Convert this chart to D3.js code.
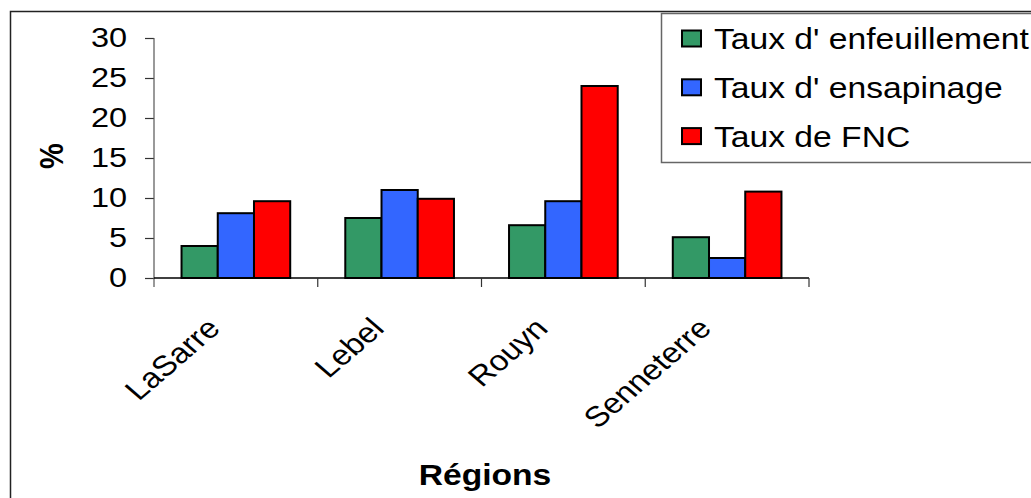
<!DOCTYPE html>
<html>
<head>
<meta charset="utf-8">
<script src="https://cdn.jsdelivr.net/npm/d3@7"></script>
<style>
  body { margin: 0; background: #fff; }
  svg text { font-family: "Liberation Sans", Arial, sans-serif; fill: #000; }
</style>
</head>
<body>
<div id="chart"></div>
<script>
// chart data
const regions = ['LaSarre', 'Lebel', 'Rouyn', 'Senneterre']
const seriesNames = ["Taux d' enfeuillement", "Taux d' ensapinage", 'Taux de FNC']
const enfeuillement = [4.0, 7.5, 6.6, 5.1]
const ensapinage = [8.1, 11.0, 9.6, 2.5]
const fnc = [9.6, 9.9, 24.0, 10.8]
const yTicks = [0, 5, 10, 15, 20, 25, 30]

const colors = ['#339966', '#3366ff', '#ff0000']
const seriesValues = [enfeuillement, ensapinage, fnc]

const width = 1031
const height = 498
// the original picture is stretched sideways, so text is too
const sx = 1.16

const svg = d3.select('#chart')
    .append('svg')
    .attr('width', width)
    .attr('height', height)

// outer frame (right and bottom edges fall off the picture)
svg.append('path')
    .attr('d', `M10.5,${height} L10.5,11.5 L${width},11.5`)
    .attr('fill', 'none')
    .attr('stroke', '#222')
    .attr('stroke-width', 1.5)

const xScale = d3.scaleBand()
    .domain(regions)
    .range([154, 809])

const subScale = d3.scaleBand()
    .domain(seriesNames)
    .range([0, xScale.bandwidth()])
    .paddingOuter(0.76)

const yScale = d3.scaleLinear()
    .domain([0, 30])
    .range([278, 38])

// bars
const rows = []
regions.forEach((r, i) => {
    seriesNames.forEach((s, j) => {
        rows.push({ region: r, series: s, value: seriesValues[j][i], color: colors[j] })
    })
})

svg.selectAll('.bar')
    .data(rows)
    .enter()
    .append('rect')
        .attr('class', 'bar')
        .attr('x', d => xScale(d.region) + subScale(d.series))
        .attr('y', d => yScale(d.value))
        .attr('width', subScale.bandwidth())
        .attr('height', d => yScale(0) - yScale(d.value))
        .attr('fill', d => d.color)
        .attr('stroke', '#000')
        .attr('stroke-width', 2)

// y axis
const yAxis = d3.axisLeft(yScale)
    .tickValues(yTicks)
    .tickSize(9)
    .tickFormat('')

const yGroup = svg.append('g')
    .attr('transform', 'translate(154,0)')
    .call(yAxis)
yGroup.select('.domain').remove()
yGroup.selectAll('line').attr('stroke', '#333').attr('stroke-width', 1.2)
yGroup.append('line')
    .attr('x1', 0).attr('x2', 0)
    .attr('y1', yScale(30)).attr('y2', 287)
    .attr('stroke', '#555')
    .attr('stroke-width', 1.2)

svg.selectAll('.ylab')
    .data(yTicks)
    .enter()
    .append('text')
        .attr('class', 'ylab')
        .attr('transform', d => `translate(127,${yScale(d)}) scale(${sx},1)`)
        .attr('dy', '0.33em')
        .attr('text-anchor', 'end')
        .attr('font-size', '28px')
        .text(d => d)

// x axis
const xGroup = svg.append('g')
xGroup.append('line')
    .attr('x1', 154).attr('x2', 809)
    .attr('y1', yScale(0)).attr('y2', yScale(0))
    .attr('stroke', '#000')
    .attr('stroke-width', 1.5)

const boundaries = regions.map(r => xScale(r)).concat([xScale.range()[1]])
xGroup.selectAll('.xtick')
    .data(boundaries.slice(1))
    .enter()
    .append('line')
        .attr('class', 'xtick')
        .attr('x1', d => d).attr('x2', d => d)
        .attr('y1', yScale(0)).attr('y2', 287)
        .attr('stroke', '#333')
        .attr('stroke-width', 1.2)

svg.selectAll('.xlab')
    .data(regions)
    .enter()
    .append('text')
        .attr('class', 'xlab')
        .attr('transform', d => `translate(${xScale(d) + xScale.bandwidth() / 2 - 14},330) scale(${sx},1) rotate(-45)`)
        .attr('text-anchor', 'end')
        .attr('font-size', '28.5px')
        .text(d => d)

// axis titles
svg.append('text')
    .attr('transform', `translate(485,485) scale(${sx},1)`)
    .attr('text-anchor', 'middle')
    .attr('font-size', '29px')
    .attr('font-weight', 'bold')
    .text('Régions')

svg.append('text')
    .attr('transform', `translate(63,156) scale(${sx},1) rotate(-90)`)
    .attr('text-anchor', 'middle')
    .attr('font-size', '29px')
    .attr('font-weight', 'bold')
    .text('%')

// legend
const legend = svg.append('g')

legend.append('rect')
    .attr('x', 661.5)
    .attr('y', 13.5)
    .attr('width', 400)
    .attr('height', 149)
    .attr('fill', '#fff')
    .attr('stroke', '#666')
    .attr('stroke-width', 1.5)

const legendItems = legend.selectAll('.item')
    .data(seriesNames)
    .enter()
    .append('g')
        .attr('class', 'item')
        .attr('transform', (d, i) => `translate(682,${38.5 + 48.8 * i})`)

legendItems.append('rect')
    .attr('x', 0)
    .attr('y', -8)
    .attr('width', 19)
    .attr('height', 16)
    .attr('fill', (d, i) => colors[i])
    .attr('stroke', '#000')
    .attr('stroke-width', 2)

legendItems.append('text')
    .attr('transform', `translate(32,0) scale(${sx},1)`)
    .attr('dy', '0.36em')
    .attr('font-size', '29px')
    .text(d => d)
</script>
</body>
</html>
